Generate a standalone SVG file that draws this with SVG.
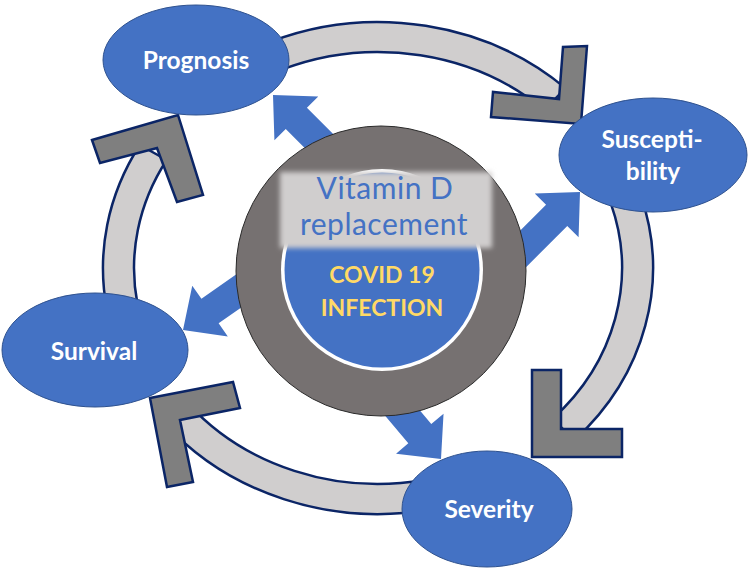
<svg xmlns="http://www.w3.org/2000/svg" xmlns:xlink="http://www.w3.org/1999/xlink" width="748" height="568" viewBox="0 0 748 568">
<style>
.node{fill:#4472c4;stroke:#2f528f;stroke-width:1}
.lbl{font-family:Lato,"Liberation Sans",sans-serif;font-weight:bold;font-size:24.5px;fill:#ffffff;text-anchor:middle}
.band{fill:#d0cece;stroke:#0b2566;stroke-width:2.5;stroke-linejoin:round}
.head{fill:#7f7f7f;stroke:#0b2566;stroke-width:2.5;stroke-linejoin:miter}
.barrow{fill:#4472c4}
.vit{font-family:Lato,"Liberation Sans",sans-serif;font-size:30px;letter-spacing:0.5px;fill:#4472c4;text-anchor:middle}
.cov{font-family:Lato,"Liberation Sans",sans-serif;font-weight:bold;font-size:23px;fill:#ffd966;text-anchor:middle}
</style>
<defs>
<polygon id="ba" points="0,0 -33,-31 -33,-15 -110,-15 -110,15 -33,15 -33,31"/>
<filter id="blur" x="-10%" y="-20%" width="120%" height="140%"><feGaussianBlur stdDeviation="2.5"/></filter>
</defs>
<rect width="748" height="568" fill="#ffffff"/>
<g id="connectors">
<use href="#ba" class="barrow" transform="translate(273,95) rotate(225)"/>
<use href="#ba" class="barrow" transform="translate(580,192) rotate(-45)"/>
<use href="#ba" class="barrow" transform="translate(183,330) rotate(145)"/>
<use href="#ba" class="barrow" transform="translate(441,459) rotate(50)"/>
<path class="band" d="M270.6 41.6 A275 246 0 0 1 565.5 88.1 L544.4 110 A244 216 0 0 0 282.7 69.2 Z"/>
<path class="band" d="M640.6 195 A275 246 0 0 1 574.5 440 L552.3 419 A244 216 0 0 0 611 203.8 Z"/>
<path class="band" d="M430 509.6 A275 246 0 0 1 164.3 422.8 L188.4 403.9 A244 216 0 0 0 424.1 480.1 Z"/>
<path class="band" d="M107 310 A275 246 0 0 1 139.8 145 L166.7 160 A244 216 0 0 0 137.6 304.9 Z"/>
<polygon class="head" points="587,46 581,124 491,117 493,92 559,99 563,47"/>
<polygon class="head" points="532,370 561,370 561,429 622,429 622,457 532,457"/>
<polygon class="head" points="150,398 233,382 240,408 180,420 193,482 167,487"/>
<polygon class="head" points="92,140 178,115 203,195 177,202 157,148 100,163"/>
</g>
<g id="center">
<circle cx="381" cy="271" r="145" fill="#767171" stroke="#2a2a2a" stroke-width="1"/>
<circle cx="382" cy="270" r="101" fill="#ffffff"/>
<circle cx="382" cy="270" r="97.5" fill="#4472c4"/>
<rect x="280" y="172" width="212" height="76" fill="#d0cece" filter="url(#blur)"/>
<text class="vit" x="385" y="199">Vitamin D</text>
<text class="vit" x="384" y="235">replacement</text>
<text class="cov" x="382" y="283">COVID 19</text>
<text class="cov" x="382" y="316">INFECTION</text>
</g>
<g id="prognosis">
<ellipse class="node" cx="196" cy="60" rx="93" ry="55"/>
<text class="lbl" x="196" y="69">Prognosis</text>
</g>
<g id="susceptibility">
<ellipse class="node" cx="653" cy="155" rx="94" ry="57"/>
<text class="lbl" x="652" y="148">Suscepti-</text>
<text class="lbl" x="653" y="180">bility</text>
</g>
<g id="survival">
<ellipse class="node" cx="95" cy="350" rx="93" ry="57"/>
<text class="lbl" x="94" y="360">Survival</text>
</g>
<g id="severity">
<ellipse class="node" cx="487" cy="509" rx="85" ry="58"/>
<text class="lbl" x="489" y="518">Severity</text>
</g>
</svg>
